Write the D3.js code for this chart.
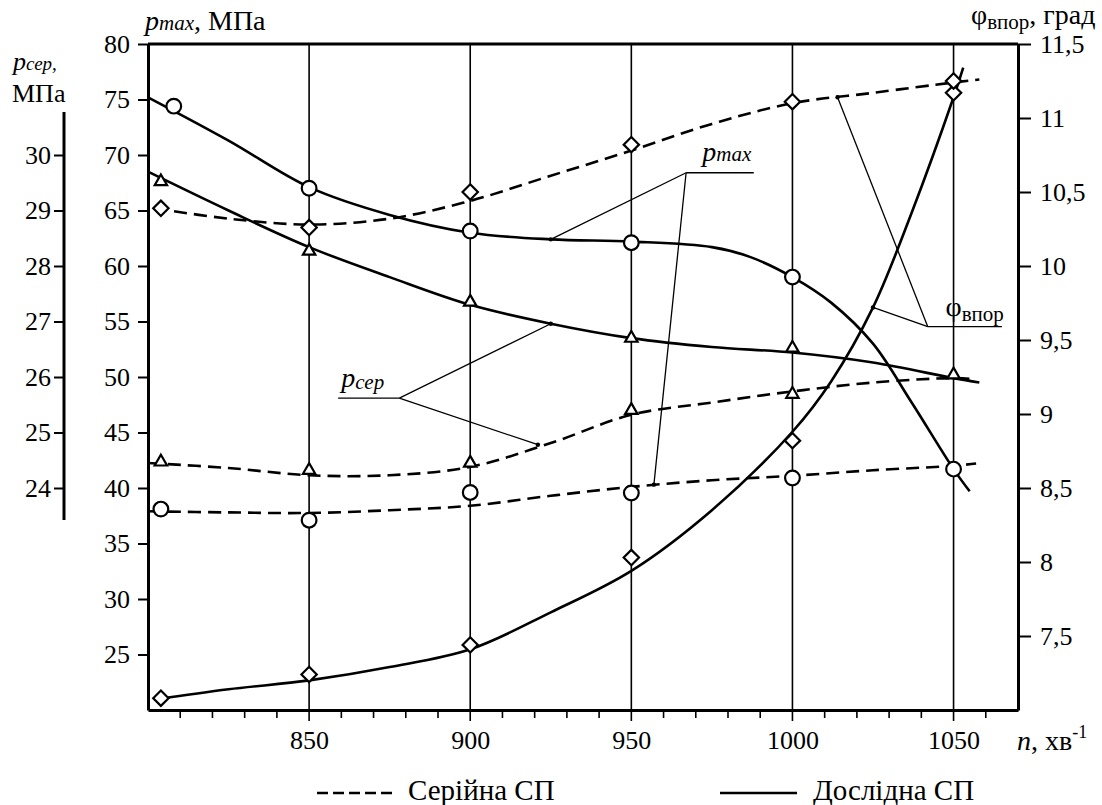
<!DOCTYPE html>
<html>
<head>
<meta charset="utf-8">
<script src="https://cdn.jsdelivr.net/npm/d3@7"></script>
<style>
  body { margin: 0; background: #fff; }
  svg text { font-family: "Liberation Serif", "DejaVu Serif", "Noto Serif", serif; fill: #000; }
</style>
</head>
<body>
<svg id="chart" width="1102" height="805"></svg>
<script>
// ticks
var nTicks = [850, 900, 950, 1000, 1050];
var nMinor = [810, 820, 830, 840, 860, 870, 880, 890, 910, 920, 930, 940, 960, 970, 980, 990, 1010, 1020, 1030, 1040, 1060];
var pmaxTicks = [25, 30, 35, 40, 45, 50, 55, 60, 65, 70, 75, 80];
var pserTicks = [24, 25, 26, 27, 28, 29, 30];
var phiTicks = [7.5, 8, 8.5, 9, 9.5, 10, 10.5, 11, 11.5];

// fitted curves, [n, value]
// Дослідна СП (solid)
var pmaxDoslLine = [[800,75.2],[825,71.3],[850,67.1],[875,64.6],[900,63.0],[925,62.4],[950,62.2],[975,61.7],[987,60.8],[1000,59.0],[1012,56.7],[1025,53.0],[1037,47.7],[1050,41.7],[1055,39.7]];
var pserDoslLine = [[800,29.7],[825,29.0],[850,28.34],[875,27.8],[900,27.3],[925,26.96],[950,26.7],[975,26.54],[1000,26.44],[1025,26.26],[1050,25.98],[1058,25.9]];
var phiDoslLine = [[802,7.07],[825,7.14],[850,7.2],[875,7.29],[900,7.41],[925,7.66],[950,7.94],[975,8.35],[1000,8.88],[1012,9.22],[1025,9.72],[1037,10.36],[1050,11.14],[1053,11.34]];
// Серійна СП (dashed)
var pmaxSerLine = [[800,37.9],[825,37.8],[850,37.75],[875,38.0],[900,38.4],[925,39.3],[950,40.1],[975,40.7],[1000,41.1],[1025,41.6],[1050,42.0],[1057,42.2]];
var pserSerLine = [[800,24.45],[825,24.36],[850,24.23],[875,24.23],[900,24.38],[925,24.81],[950,25.32],[975,25.54],[1000,25.74],[1025,25.9],[1050,25.98],[1057,25.96]];
var phiSerLine = [[802,10.39],[825,10.32],[850,10.28],[875,10.32],[900,10.44],[925,10.61],[950,10.78],[975,10.96],[1000,11.1],[1025,11.17],[1050,11.24],[1058,11.26]];

// measured points
var pmaxDoslPts = [[808,74.4],[850,67.0],[900,63.15],[950,62.1],[1000,59.0],[1050,41.7]];
var pmaxSerPts = [[804,38.1],[850,37.1],[900,39.6],[950,39.55],[1000,40.9]];
var pserDoslPts = [[804,29.52],[850,28.27],[900,27.35],[950,26.7],[1000,26.52],[1050,26.04]];
var pserSerPts = [[804,24.47],[850,24.32],[900,24.45],[950,25.4],[1000,25.69]];
var phiDoslPts = [[804,7.08],[850,7.24],[900,7.44],[950,8.03],[1000,8.82],[1050,11.17]];
var phiSerPts = [[804,10.39],[850,10.26],[900,10.5],[950,10.82],[1000,11.11],[1050,11.25]];

var FONT = "'Liberation Serif', 'DejaVu Serif', 'Noto Serif', serif";
var svg = d3.select("#chart");
var x = d3.scaleLinear().domain([800, 1070]).range([148, 1018]);
var yMax = d3.scaleLinear().domain([20, 80]).range([710, 44]);
var ySer = d3.scaleLinear().domain([20, 32]).range([710, 44]);
var yPhi = d3.scaleLinear().domain([7, 11.5]).range([710, 44]);

function lineFor(y) {
    return d3.line()
        .x(function(d) { return x(d[0]); })
        .y(function(d) { return y(d[1]); })
        .curve(d3.curveCatmullRom.alpha(0.5));
}

// vertical grid lines
svg.append("g").selectAll("line")
    .data(nTicks).enter().append("line")
    .attr("x1", function(d) { return x(d); })
    .attr("x2", function(d) { return x(d); })
    .attr("y1", 44).attr("y2", 721)
    .attr("stroke", "#000").attr("stroke-width", 1.6);

// minor ticks
svg.append("g").selectAll("line")
    .data(nMinor).enter().append("line")
    .attr("x1", function(d) { return x(d); })
    .attr("x2", function(d) { return x(d); })
    .attr("y1", 710).attr("y2", 718)
    .attr("stroke", "#000").attr("stroke-width", 1.6);

var curves = [
    {data: pmaxDoslLine, y: yMax, dash: null},
    {data: pserDoslLine, y: ySer, dash: null},
    {data: phiDoslLine, y: yPhi, dash: null},
    {data: pmaxSerLine, y: yMax, dash: "13,7"},
    {data: pserSerLine, y: ySer, dash: "13,7"},
    {data: phiSerLine, y: yPhi, dash: "13,7"}
];
curves.forEach(function(c) {
    svg.append("path")
        .attr("d", lineFor(c.y)(c.data))
        .attr("fill", "none")
        .attr("stroke", "#000")
        .attr("stroke-width", 2.6)
        .attr("stroke-dasharray", c.dash);
});

var markers = [
    {data: pmaxDoslPts, y: yMax, type: d3.symbolCircle, size: 170},
    {data: pmaxSerPts, y: yMax, type: d3.symbolCircle, size: 170},
    {data: pserDoslPts, y: ySer, type: d3.symbolTriangle2, size: 110},
    {data: pserSerPts, y: ySer, type: d3.symbolTriangle2, size: 110},
    {data: phiDoslPts, y: yPhi, type: d3.symbolDiamond2, size: 150},
    {data: phiSerPts, y: yPhi, type: d3.symbolDiamond2, size: 150}
];
markers.forEach(function(m) {
    svg.append("g").selectAll("path")
        .data(m.data).enter().append("path")
        .attr("d", d3.symbol().type(m.type).size(m.size))
        .attr("transform", function(d) { return "translate(" + x(d[0]) + "," + m.y(d[1]) + ")"; })
        .attr("fill", "#fff")
        .attr("stroke", "#000")
        .attr("stroke-width", 2.2);
});

// leader annotations: label joint, underline end, targets on the curves
var leaders = [
    {y: yMax, joint: [967, 68.4], end: [988, 68.4], targets: [[925, 62.4], [957, 40.3]]},
    {y: ySer, joint: [878, 25.62], end: [859, 25.62], targets: [[925, 26.96], [921, 24.78]]},
    {y: yPhi, joint: [1042, 9.59], end: [1065, 9.59], targets: [[1025, 9.72], [1014, 11.14]]}
];
leaders.forEach(function(l) {
    var g = svg.append("g");
    g.append("line")
        .attr("x1", x(l.joint[0])).attr("y1", l.y(l.joint[1]))
        .attr("x2", x(l.end[0])).attr("y2", l.y(l.end[1]))
        .attr("stroke", "#000").attr("stroke-width", 1.3);
    l.targets.forEach(function(t) {
        g.append("line")
            .attr("x1", x(l.joint[0])).attr("y1", l.y(l.joint[1]))
            .attr("x2", x(t[0])).attr("y2", l.y(t[1]))
            .attr("stroke", "#000").attr("stroke-width", 1.3);
        g.append("circle")
            .attr("cx", x(t[0])).attr("cy", l.y(t[1])).attr("r", 2.2)
            .attr("fill", "#000");
    });
});

// leader labels
var t1 = svg.append("text").attr("x", x(972)).attr("y", yMax(69.5)).attr("font-size", 28).attr("font-style", "italic");
t1.append("tspan").text("p");
t1.append("tspan").attr("font-size", 21).text("max");
var t2 = svg.append("text").attr("x", x(860)).attr("y", ySer(25.82)).attr("font-size", 28).attr("font-style", "italic");
t2.append("tspan").text("p");
t2.append("tspan").attr("font-size", 21).attr("dy", 2).text("сер");
var t3 = svg.append("text").attr("x", x(1047.5)).attr("y", yPhi(9.66)).attr("font-size", 28);
t3.append("tspan").text("φ");
t3.append("tspan").attr("font-size", 21).attr("dy", 5).text("впор");

function styleAxis(g) {
    g.attr("font-family", FONT).attr("font-size", 26);
    g.select(".domain").attr("stroke-width", 3);
    g.selectAll(".tick line").attr("stroke-width", 2);
}

// left pmax axis
svg.append("g").attr("transform", "translate(148,0)")
    .call(d3.axisLeft(yMax).tickValues(pmaxTicks).tickSize(10).tickSizeOuter(0).tickPadding(8))
    .call(styleAxis);

// far left pсер axis
var gs = svg.append("g").attr("transform", "translate(64,0)")
    .call(d3.axisLeft(ySer).tickValues(pserTicks).tickSize(10).tickSizeOuter(0).tickPadding(3))
    .call(styleAxis);
gs.select(".domain").remove();
gs.append("line").attr("x1", 0).attr("x2", 0).attr("y1", 112).attr("y2", 520)
    .attr("stroke", "#000").attr("stroke-width", 3);

// right φ axis
svg.append("g").attr("transform", "translate(1018,0)")
    .call(d3.axisRight(yPhi).tickValues(phiTicks).tickSize(13).tickSizeOuter(0).tickPadding(9)
        .tickFormat(function(d) { return String(d).replace(".", ","); }))
    .call(styleAxis);

// bottom axis
svg.append("g").attr("transform", "translate(0,710)")
    .call(d3.axisBottom(x).tickValues(nTicks).tickSize(0).tickSizeOuter(0).tickPadding(21)
        .tickFormat(function(d) { return String(d); }))
    .call(styleAxis);

// top border
svg.append("line").attr("x1", 148).attr("x2", 1018).attr("y1", 44).attr("y2", 44)
    .attr("stroke", "#000").attr("stroke-width", 3);

// axis titles
var tt = svg.append("text").attr("x", 145).attr("y", 30).attr("font-size", 28);
tt.append("tspan").attr("font-style", "italic").text("p");
tt.append("tspan").attr("font-style", "italic").attr("font-size", 21).text("max");
tt.append("tspan").text(", МПа");

var ts = svg.append("text").attr("x", 13).attr("y", 70).attr("font-size", 26);
ts.append("tspan").attr("font-style", "italic").text("p");
ts.append("tspan").attr("font-style", "italic").attr("font-size", 19).text("сер,");
svg.append("text").attr("x", 12).attr("y", 102).attr("font-size", 26).text("МПа");

var tr = svg.append("text").attr("x", 971).attr("y", 24).attr("font-size", 28);
tr.append("tspan").text("φ");
tr.append("tspan").attr("font-size", 21).attr("dy", 5).text("впор");
tr.append("tspan").attr("dy", -5).text(", град");

var tn = svg.append("text").attr("x", 1017).attr("y", 750).attr("font-size", 28);
tn.append("tspan").attr("font-style", "italic").text("n");
tn.append("tspan").text(", хв");
tn.append("tspan").attr("font-size", 18).attr("dy", -12).text("-1");

// legend
svg.append("line").attr("x1", 317).attr("x2", 395).attr("y1", 793).attr("y2", 793)
    .attr("stroke", "#000").attr("stroke-width", 2.6).attr("stroke-dasharray", "11,5");
svg.append("text").attr("x", 408).attr("y", 800).attr("font-size", 29).text("Серійна СП");
svg.append("line").attr("x1", 720).attr("x2", 797).attr("y1", 793).attr("y2", 793)
    .attr("stroke", "#000").attr("stroke-width", 2.6);
svg.append("text").attr("x", 813).attr("y", 800).attr("font-size", 29).text("Дослідна СП");
</script>
</body>
</html>
